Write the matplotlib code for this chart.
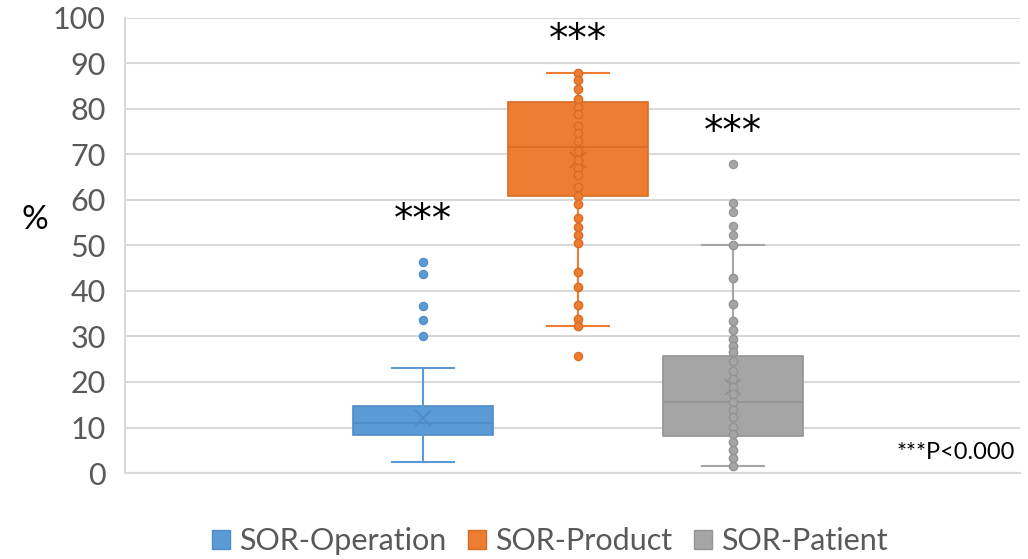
import matplotlib
matplotlib.use("Agg")
import matplotlib.pyplot as plt
from matplotlib.patches import Patch

plt.rcParams['font.family'] = ['Lato', 'DejaVu Sans']

groups = ['SOR-Operation', 'SOR-Product', 'SOR-Patient']
colors = ['#5B9BD5', '#ED7D31', '#A5A5A5']
edges = ['#4F8CC6', '#D96B24', '#939393']

# box statistics per group (%)
q1 = [8.3, 60.9, 8.1]
med = [11.0, 71.6, 15.5]
q3 = [14.8, 81.5, 25.7]
whislo = [2.5, 32.2, 1.5]
whishi = [23.1, 88.0, 50.1]
means = [12.0, 68.8, 19.0]
fliers = [
    [46.4, 43.8, 36.8, 33.6, 30.2],
    [25.8],
    [67.8, 59.3, 57.3, 54.3, 52.3],
]

# inner points shown for product and patient
product_pts = [88.0, 86.4, 84.4, 82.1, 80.4, 78.8, 76.3, 74.7, 73.0, 70.8, 68.8,
               67.1, 65.5, 62.8, 60.9, 59.1, 56.1, 54.0, 52.3, 50.5, 44.2, 40.9,
               36.9, 33.8, 32.2]
patient_pts = [50.1, 42.8, 37.2, 33.3, 31.4, 29.5, 27.9, 26.5, 24.6, 22.5, 20.6,
               19.0, 17.3, 15.6, 13.9, 12.2, 10.2, 8.6, 6.9, 5.0, 3.2, 1.5]
inner = [[], product_pts, patient_pts]

star_y = [55.6, 95.2, 75.0]

positions = [1, 2, 3]

fig = plt.figure(figsize=(10.28, 5.59), dpi=100)
ax = fig.add_axes([0.1216, 0.1538, 0.8704, 0.8142])

stats = []
for i in range(3):
    stats.append(dict(q1=q1[i], med=med[i], q3=q3[i], whislo=whislo[i],
                      whishi=whishi[i], mean=means[i], fliers=[]))

for i in range(3):
    ax.bxp([stats[i]], positions=[positions[i]], widths=0.9, patch_artist=True,
           showmeans=True, showfliers=False,
           boxprops=dict(facecolor=colors[i], edgecolor=edges[i], linewidth=1.2),
           medianprops=dict(color=edges[i], linewidth=1.3),
           whiskerprops=dict(color=colors[i], linewidth=1.5),
           capprops=dict(color=colors[i], linewidth=1.5),
           capwidths=0.4,
           meanprops=dict(marker='x', markeredgecolor=edges[i], markersize=11,
                          markeredgewidth=1.3),
           zorder=2)
    ax.scatter([positions[i]] * len(fliers[i]), fliers[i], s=36, color=colors[i],
               edgecolor=edges[i], linewidth=0.8, zorder=4)
    if inner[i]:
        ax.scatter([positions[i]] * len(inner[i]), inner[i], s=36, color=colors[i],
                   edgecolor=edges[i], linewidth=1.0, zorder=4)
    ax.text(positions[i], star_y[i], '***', ha='center', va='center',
            fontsize=28, color='black', family='DejaVu Sans')

ax.text(4.82, 4.6, '***P<0.000', ha='right', va='center', fontsize=17,
        color='black')

ax.set_xlim(-0.92, 4.85)
ax.set_ylim(0, 100)
ax.set_yticks(range(0, 101, 10))
ax.set_xticks([])
ax.tick_params(axis='y', labelsize=22, labelcolor='#595959', length=0, pad=14)
ax.grid(axis='y', color='#d9d9d9', linewidth=1.5, zorder=0)
ax.set_axisbelow(True)
for s in ['top', 'right']:
    ax.spines[s].set_visible(False)
for s in ['left', 'bottom']:
    ax.spines[s].set_color('#d9d9d9')
    ax.spines[s].set_linewidth(1.5)

fig.text(0.034, 0.606, '%', fontsize=24, color='black', ha='center', va='center')

handles = [Patch(facecolor=c, edgecolor=e) for c, e in zip(colors, edges)]
fig.legend(handles, groups, loc='center', bbox_to_anchor=(0.535, 0.032), ncol=3,
           frameon=False, fontsize=22, labelcolor='#595959', handlelength=0.6,
           handleheight=0.6, handletextpad=0.3, columnspacing=0.7)

fig.savefig('out.png', dpi=100)
